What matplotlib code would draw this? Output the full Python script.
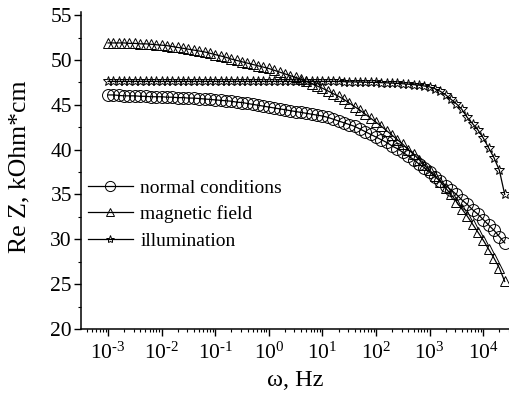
import numpy as np
import matplotlib
matplotlib.use('Agg')
import matplotlib.pyplot as plt
from matplotlib.ticker import MultipleLocator, LogLocator, NullFormatter, FixedLocator, FixedFormatter

plt.rcParams['font.family'] = ['Liberation Serif', 'DejaVu Serif']
plt.rcParams['mathtext.fontset'] = 'custom'
plt.rcParams['mathtext.rm'] = 'Liberation Serif'
plt.rcParams['mathtext.it'] = 'Liberation Serif:italic'
plt.rcParams['mathtext.default'] = 'regular'
plt.rcParams['axes.unicode_minus'] = False

# log10 of frequency (Hz)
log_freq = [-3.0, -2.9, -2.8, -2.7, -2.6, -2.5, -2.4, -2.3, -2.2, -2.1,
            -2.0, -1.9, -1.8, -1.7, -1.6, -1.5, -1.4, -1.3, -1.2, -1.1,
            -1.0, -0.9, -0.8, -0.7, -0.6, -0.5, -0.4, -0.3, -0.2, -0.1,
            0.0, 0.1, 0.2, 0.3, 0.4, 0.5, 0.6, 0.7, 0.8, 0.9,
            1.0, 1.1, 1.2, 1.3, 1.4, 1.5, 1.6, 1.7, 1.8, 1.9,
            2.0, 2.1, 2.2, 2.3, 2.4, 2.5, 2.6, 2.7, 2.8, 2.9,
            3.0, 3.1, 3.2, 3.3, 3.4, 3.5, 3.6, 3.7, 3.8, 3.9,
            4.0, 4.1, 4.2, 4.3, 4.4]

normal = [46.1, 46.1, 46.05, 46.0, 46.0, 46.0, 45.95, 45.95, 45.9, 45.9,
          45.9, 45.85, 45.85, 45.8, 45.8, 45.75, 45.75, 45.7, 45.65, 45.6,
          45.55, 45.5, 45.45, 45.4, 45.3, 45.25, 45.15, 45.05, 44.95, 44.85,
          44.75, 44.65, 44.55, 44.45, 44.35, 44.25, 44.15, 44.05, 43.95, 43.85,
          43.75, 43.6, 43.4, 43.2, 43.0, 42.8, 42.6, 42.3, 42.0, 41.7,
          41.4, 41.1, 40.8, 40.4, 40.1, 39.7, 39.3, 38.9, 38.4, 38.0,
          37.5, 37.0, 36.5, 36.0, 35.5, 35.0, 34.4, 33.9, 33.3, 32.8,
          32.2, 31.6, 31.0, 30.3, 29.6]

magnetic = [51.9, 51.9, 51.9, 51.9, 51.85, 51.85, 51.8, 51.8, 51.75, 51.7,
            51.65, 51.6, 51.5, 51.4, 51.3, 51.2, 51.1, 51.0, 50.9, 50.75,
            50.6, 50.45, 50.3, 50.1, 49.95, 49.8, 49.65, 49.5, 49.35, 49.2,
            49.05, 48.85, 48.65, 48.45, 48.25, 48.05, 47.85, 47.6, 47.35, 47.1,
            46.85, 46.55, 46.25, 45.95, 45.6, 45.2, 44.8, 44.4, 43.95, 43.5,
            43.05, 42.6, 42.1, 41.6, 41.1, 40.6, 40.0, 39.5, 38.9, 38.3,
            37.7, 37.1, 36.4, 35.7, 35.0, 34.2, 33.4, 32.6, 31.7, 30.8,
            29.9, 28.9, 27.9, 26.8, 25.3]

illumination = [47.6, 47.6, 47.6, 47.6, 47.6, 47.6, 47.6, 47.6, 47.6, 47.6,
                47.6, 47.6, 47.6, 47.6, 47.6, 47.6, 47.6, 47.6, 47.6, 47.6,
                47.6, 47.6, 47.6, 47.6, 47.6, 47.6, 47.6, 47.6, 47.6, 47.6,
                47.6, 47.6, 47.6, 47.6, 47.6, 47.6, 47.6, 47.6, 47.6, 47.6,
                47.6, 47.6, 47.6, 47.6, 47.58, 47.56, 47.55, 47.54, 47.52, 47.5,
                47.5, 47.47, 47.45, 47.42, 47.38, 47.35, 47.3, 47.25, 47.2, 47.1,
                47.0, 46.8, 46.5, 46.1, 45.6, 45.1, 44.5, 43.6, 42.9, 42.2,
                41.3, 40.2, 39.1, 37.7, 35.0]

labels = ['normal conditions', 'magnetic field', 'illumination']
markers = ['o', '^', '*']
msizes = [8.6, 7.6, 7.0]
x_major = [1e-3, 1e-2, 1e-1, 1e0, 1e1, 1e2, 1e3, 1e4]
x_tick_labels = [r'$10^{\text{-3}}$', r'$10^{\text{-2}}$', r'$10^{\text{-1}}$',
                 r'$10^{0}$', r'$10^{1}$', r'$10^{2}$', r'$10^{3}$', r'$10^{4}$']

freq = 10 ** np.array(log_freq)
series = [normal, magnetic, illumination]

fig = plt.figure(figsize=(5.09, 4.00), dpi=100)
ax = fig.add_axes([81 / 509, 71 / 400, 428 / 509, 317 / 400])

for vals, lab, mk, ms in zip(series, labels, markers, msizes):
    ax.plot(freq, vals, color='black', lw=0.9, marker=mk, ms=ms,
            mfc='none', mec='black', mew=0.7, label=lab)

ax.set_xscale('log')
ax.set_xlim(10 ** -3.504, 10 ** 4.48)
ax.set_ylim(20, 55.35)
ax.xaxis.set_major_locator(FixedLocator(x_major))
ax.xaxis.set_major_formatter(FixedFormatter(x_tick_labels))
ax.xaxis.set_minor_locator(LogLocator(base=10, subs=np.arange(2, 10), numticks=100))
ax.xaxis.set_minor_formatter(NullFormatter())
ax.yaxis.set_major_locator(MultipleLocator(5))
ax.yaxis.set_minor_locator(MultipleLocator(2.5))

for s in ['top', 'right']:
    ax.spines[s].set_visible(False)
for s in ['left', 'bottom']:
    ax.spines[s].set_linewidth(1.1)

ax.tick_params(which='major', direction='out', length=5, width=1.0,
               labelsize=15.5)
ax.tick_params(axis='y', which='major', pad=1.5)
ax.tick_params(axis='x', which='major', pad=5)
ax.tick_params(which='minor', direction='out', length=2.5, width=0.8)

ax.set_xlabel('ω, Hz', fontsize=17.5, labelpad=4)
ax.set_ylabel('Re Z, kOhm*cm', fontsize=18.5)
ax.yaxis.set_label_coords(-0.117, 0.511)

ax.legend(loc='upper left', bbox_to_anchor=(0.016, 0.473), frameon=False,
          borderpad=0, borderaxespad=0, handlelength=2.3, handletextpad=0.4,
          labelspacing=0.45, fontsize=14, markerscale=0.85)

fig.savefig('out.png', dpi=100)
